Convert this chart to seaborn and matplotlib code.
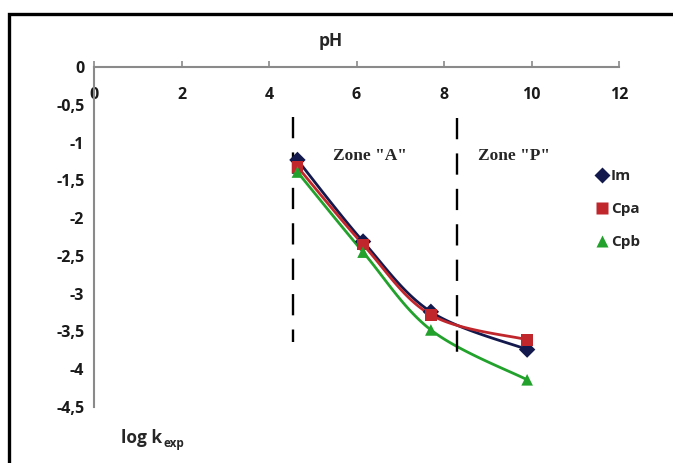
import numpy as np
import pandas as pd
import seaborn as sns
import matplotlib
matplotlib.use("Agg")
import matplotlib.pyplot as plt
from matplotlib.patches import Rectangle

# ---- data ----
ph = [4.65, 6.15, 7.7, 9.9]
im = [-1.23, -2.31, -3.24, -3.74]
cpa = [-1.32, -2.35, -3.28, -3.61]
cpb = [-1.39, -2.45, -3.48, -4.14]
series_names = ["Im", "Cpa", "Cpb"]
zone_x = [4.55, 8.3]
zone_top = [-0.66, -0.68]
zone_bottom = [-3.64, -3.95]
zone_labels = ['Zone "A"', 'Zone "P"']
zone_label_x = [6.3, 9.6]
zone_label_y = -1.18
xticks = [0, 2, 4, 6, 8, 10, 12]
yticks = [0, -0.5, -1, -1.5, -2, -2.5, -3, -3.5, -4, -4.5]
ytick_labels = ["0", "-0,5", "-1", "-1,5", "-2", "-2,5", "-3", "-3,5", "-4", "-4,5"]

colors = {"Im": "#13194d", "Cpa": "#c0272d", "Cpb": "#22a22c"}
markers = {"Im": "D", "Cpa": "s", "Cpb": "^"}


def catmull_rom(x, y, n=40):
    x = np.asarray(x, float)
    y = np.asarray(y, float)
    px = np.concatenate([[x[0]], x, [x[-1]]])
    py = np.concatenate([[y[0]], y, [y[-1]]])
    ox, oy = [], []
    t = np.linspace(0, 1, n)
    for i in range(1, len(px) - 2):
        p0, p1, p2, p3 = (np.array([px[j], py[j]]) for j in range(i - 1, i + 3))
        m1 = (p2 - p0) / 2.0
        m2 = (p3 - p1) / 2.0
        h00 = 2 * t**3 - 3 * t**2 + 1
        h10 = t**3 - 2 * t**2 + t
        h01 = -2 * t**3 + 3 * t**2
        h11 = t**3 - t**2
        pts = (np.outer(h00, p1) + np.outer(h10, m1) + np.outer(h01, p2) + np.outer(h11, m2))
        ox.extend(pts[:, 0])
        oy.extend(pts[:, 1])
    return np.array(ox), np.array(oy)


df = pd.DataFrame({
    "pH": ph * 3,
    "logk": im + cpa + cpb,
    "series": sum([[s] * len(ph) for s in series_names], []),
})
curve_rows = []
for name, vals in zip(series_names, [im, cpa, cpb]):
    cx, cy = catmull_rom(ph, vals)
    for a, b in zip(cx, cy):
        curve_rows.append((a, b, name))
curves = pd.DataFrame(curve_rows, columns=["pH", "logk", "series"])

sns.set_style("white")
plt.rcParams["font.family"] = ["Open Sans", "DejaVu Sans"]

fig = plt.figure(figsize=(6.73, 4.63), dpi=100)
ax = fig.add_axes([94 / 673, 1 - 407 / 463, (619 - 94) / 673, (407 - 67) / 463])

sns.lineplot(data=curves, x="pH", y="logk", hue="series", palette=colors,
             sort=False, estimator=None, linewidth=2.0, legend=False, ax=ax)
sns.scatterplot(data=df, x="pH", y="logk", hue="series", style="series",
                palette=colors, markers=markers, s=70, edgecolor="none",
                zorder=5, ax=ax)

for zx, zt, zb in zip(zone_x, zone_top, zone_bottom):
    ax.plot([zx, zx], [zt, zb], color="black", lw=1.7, ls=(0, (9, 6)))
for lx, lab in zip(zone_label_x, zone_labels):
    ax.text(lx, zone_label_y, lab, ha="center", va="center",
            family="Liberation Serif", fontweight="heavy", fontsize=12.5)

ax.set_xlim(0, 12)
ax.set_ylim(-4.5, 0)
ax.set_xticks(xticks)
ax.set_xticklabels([str(v) for v in xticks])
ax.set_yticks(yticks)
ax.set_yticklabels(ytick_labels)
ax.set_xlabel("")
ax.set_ylabel("")
ax.xaxis.tick_top()
for s in ["right", "bottom"]:
    ax.spines[s].set_visible(False)
for s in ["top", "left"]:
    ax.spines[s].set_color("#8a8a8a")
    ax.spines[s].set_linewidth(1.5)
ax.tick_params(axis="x", direction="out", length=4, width=1.2, color="#8a8a8a",
               labeltop=True, labelbottom=False, pad=-30, labelsize=11.5,
               labelcolor="#1a1a1a")
ax.tick_params(axis="y", direction="out", length=4, width=1.2, color="#8a8a8a",
               labelsize=11.5, labelcolor="#1a1a1a", pad=3)
for lab in ax.get_xticklabels() + ax.get_yticklabels():
    lab.set_fontweight("bold")
ax.set_facecolor("none")

leg = ax.legend(loc="upper left", bbox_to_anchor=(588 / 673, 1 - 163 / 463),
                bbox_transform=fig.transFigure, frameon=False,
                handletextpad=0.1, labelspacing=1.25, fontsize=11,
                handlelength=1.0, borderaxespad=0)
for t in leg.get_texts():
    t.set_fontweight("bold")

fig.text(331 / 673, 1 - 41 / 463, "pH", ha="center", va="center",
         fontweight="bold", fontsize=12.5)
fig.text(121 / 673, 1 - 438 / 463, "log k", ha="left", va="center",
         fontweight="bold", fontsize=12.5)
fig.text(164 / 673, 1 - 443 / 463, "exp", ha="left", va="center",
         fontweight="bold", fontsize=8.5)

fig.add_artist(Rectangle((9 / 673, -0.1), 1.2, 1.1 - 14 / 463 + 0.0,
                         transform=fig.transFigure, fill=False,
                         lw=2.4, edgecolor="black", clip_on=False))

fig.savefig("out.png", dpi=100)
